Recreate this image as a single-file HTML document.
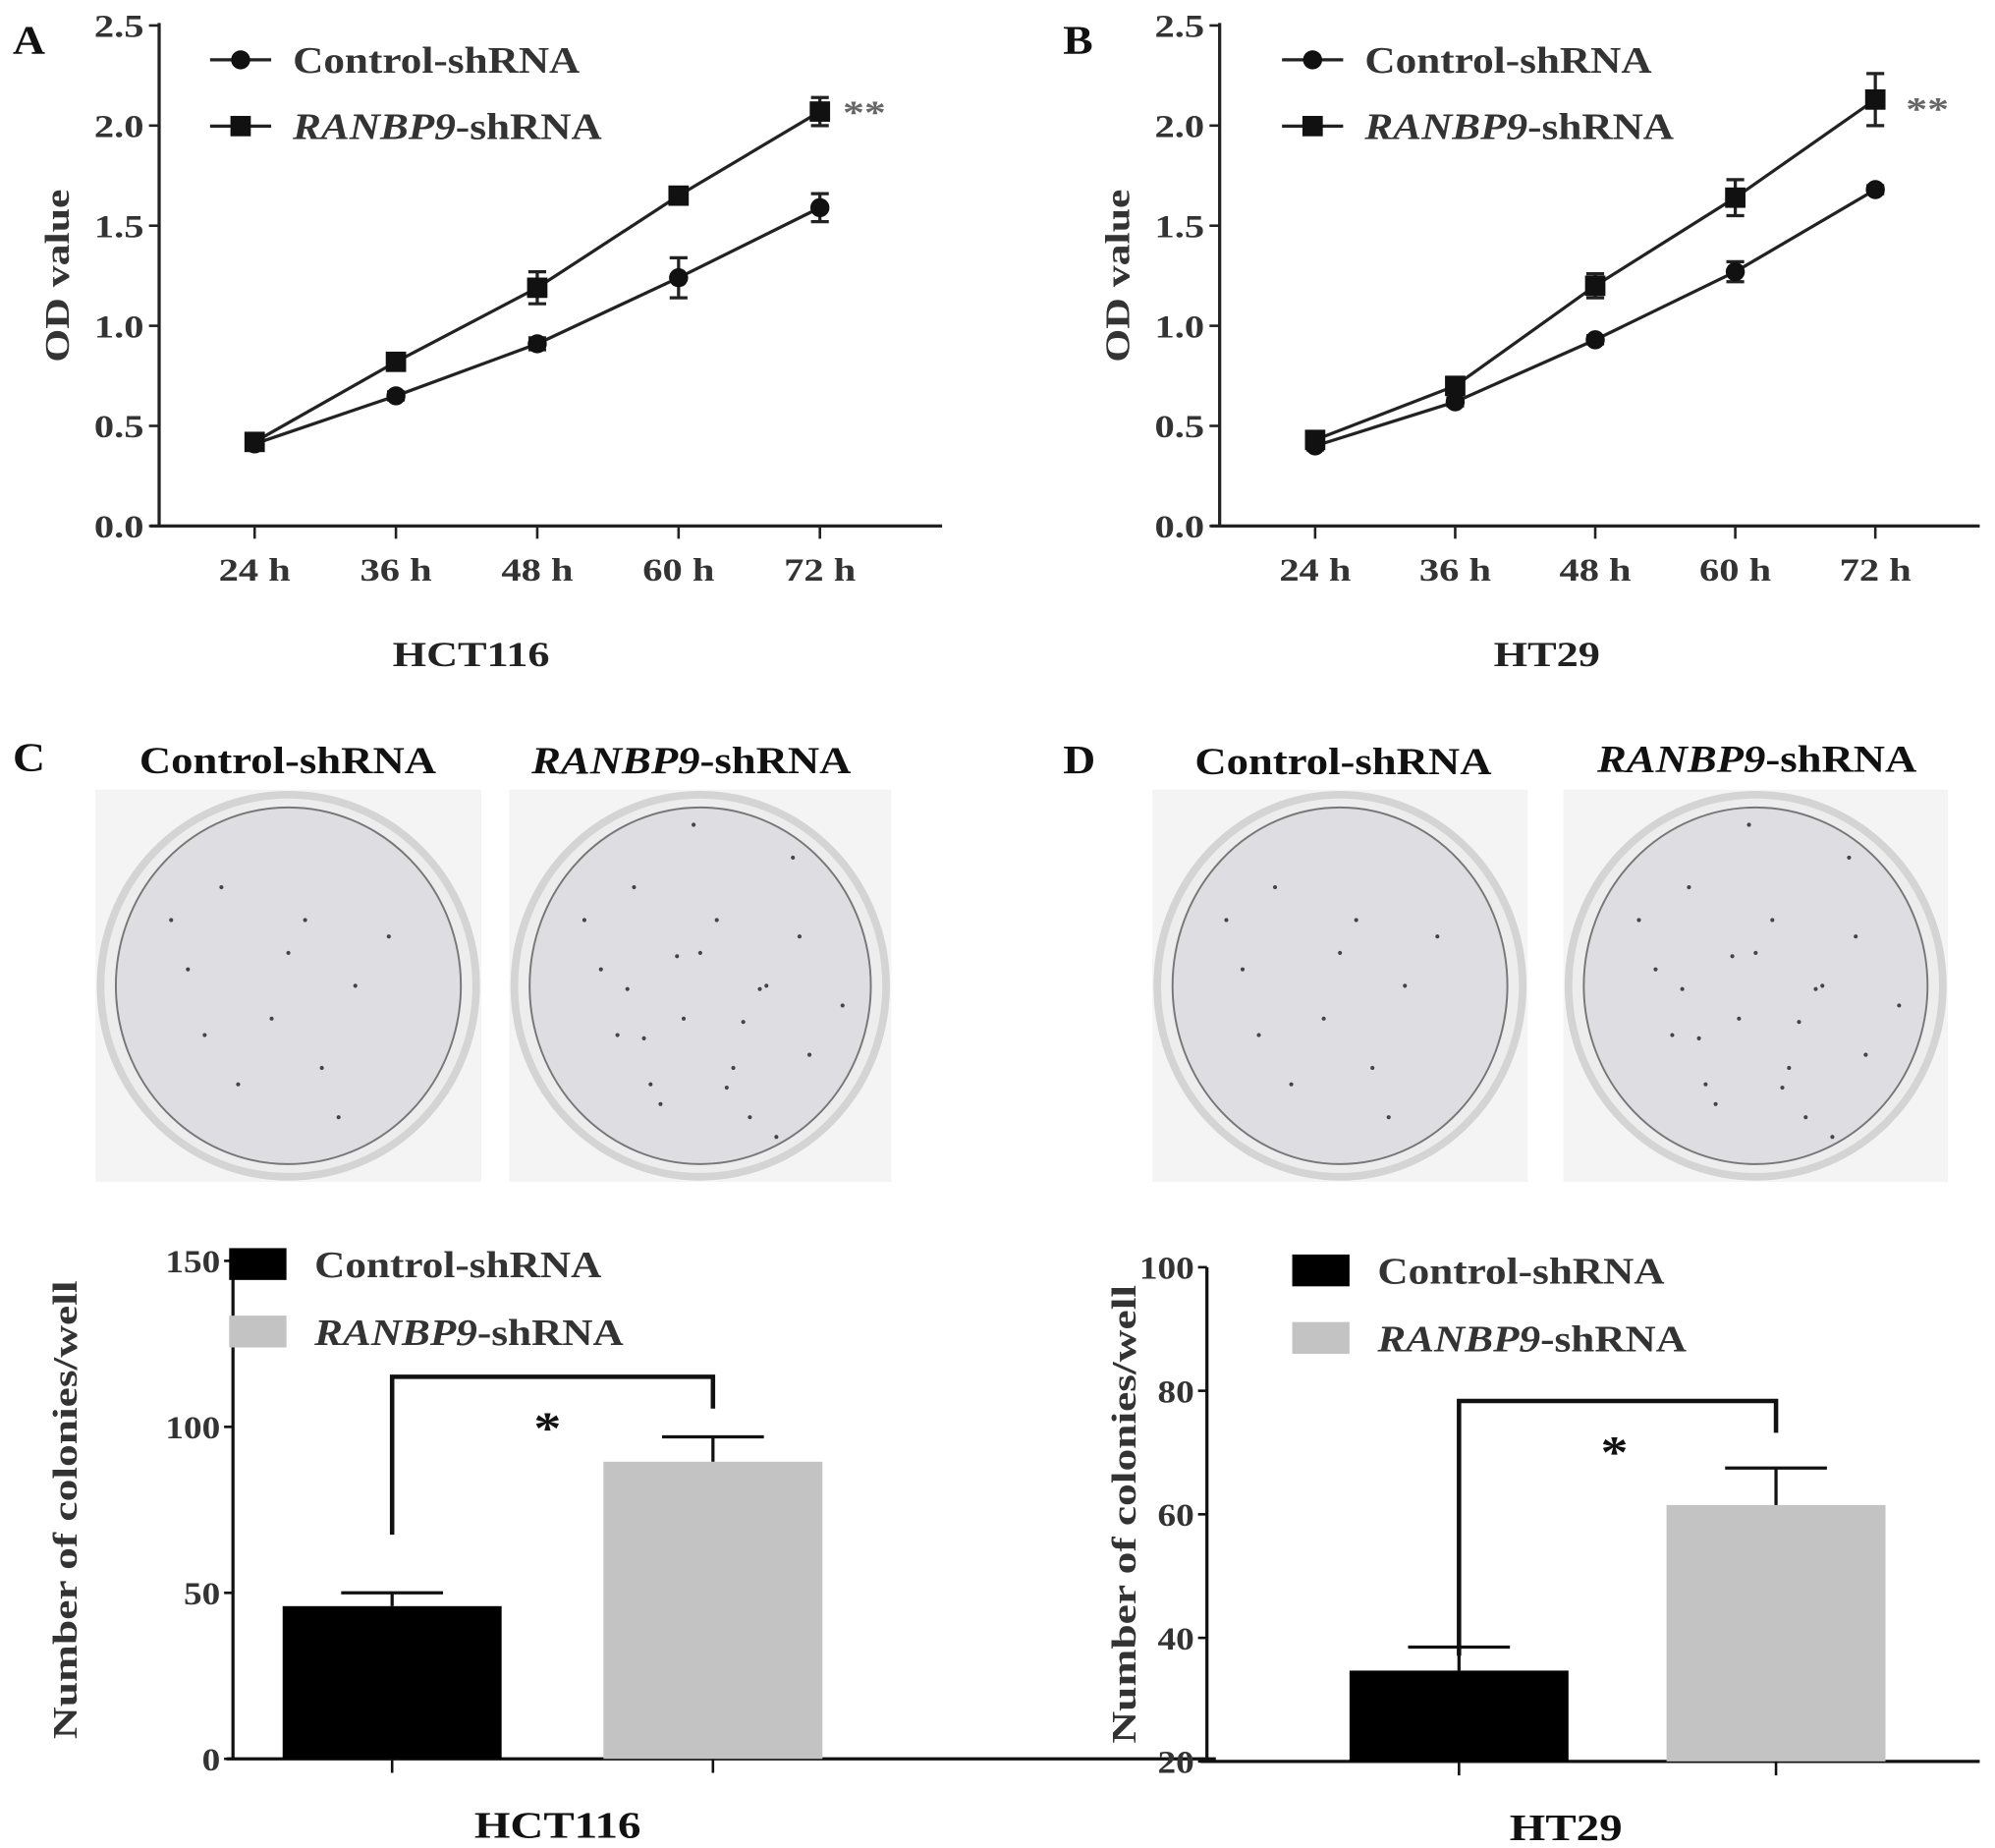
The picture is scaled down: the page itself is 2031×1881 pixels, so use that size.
<!DOCTYPE html>
<html><head><meta charset="utf-8">
<style>
html,body{margin:0;padding:0;background:#fff;}
svg{display:block;font-family:"Liberation Serif",serif;}
</style></head>
<body>
<svg id="fig" width="2031" height="1881" viewBox="0 0 1567 1451" preserveAspectRatio="none" xmlns="http://www.w3.org/2000/svg">
<g id="root"></g>
</svg>
<script>
// ---------- data ----------
const timeLabels = ["24 h","36 h","48 h","60 h","72 h"];
const odTicks = [0.0,0.5,1.0,1.5,2.0,2.5];
const hctControl = [0.41,0.65,0.91,1.24,1.59];
const hctControlErr = [0.02,0.02,0.03,0.10,0.07];
const hctRanbp9 = [0.42,0.82,1.19,1.65,2.07];
const hctRanbp9Err = [0.02,0.02,0.08,0.03,0.07];
const htControl = [0.40,0.62,0.93,1.27,1.68];
const htControlErr = [0.02,0.02,0.02,0.05,0.02];
const htRanbp9 = [0.43,0.70,1.20,1.64,2.13];
const htRanbp9Err = [0.02,0.03,0.06,0.09,0.13];
const groupNames = ["Control-shRNA","RANBP9-shRNA"];
const hctColonies = [46,89.5];
const hctColoniesErr = [4,7.5];
const hctColonyTicks = [0,50,100,150];
const htColonies = [34.7,61.5];
const htColoniesErr = [3.8,6];
const htColonyTicks = [20,40,60,80,100];

const NS="http://www.w3.org/2000/svg";
const root=document.getElementById('root');
function el(tag,attrs,parent,text){
  const e=document.createElementNS(NS,tag);
  for(const k in attrs)e.setAttribute(k,attrs[k]);
  if(text!==undefined)e.textContent=text;
  (parent||root).appendChild(e);return e;
}
function grp(name){const g=el('g',{});
  
  
  return g;}

function label(parent,x,y,txt,size,name,opts){
  opts=opts||{};
  const sx=opts.sx||1.2;
  let tr=`translate(${x} ${y})`;
  if(opts.rotate)tr+=' rotate(-90)';
  tr+=` scale(${sx} 1)`;
  const t=el('text',{x:0,y:0,transform:tr,'font-size':size,'font-weight':'bold','text-anchor':opts.anchor||'middle',fill:opts.fill||'#222'},parent);
  if(opts.italicPart){
    el('tspan',{'font-style':'italic'},t,opts.italicPart);
    el('tspan',{},t,txt);
  } else t.textContent=txt;
  
  
  return t;
}

// ---------- line charts ----------
function lineChart(cfg){
  const g=grp(cfg.name);
  const y=v=>cfg.y0+(cfg.y1-cfg.y0)*(v-0)/(2.5-0);
  const x=i=>cfg.xs0+i*cfg.step;
  el('line',{x1:cfg.ax,y1:cfg.y1-2,x2:cfg.ax,y2:cfg.y0,stroke:'#222','stroke-width':2.5},g);
  el('line',{x1:cfg.ax-7,y1:cfg.y0,x2:cfg.axEnd,y2:cfg.y0,stroke:'#222','stroke-width':2.5},g);
  odTicks.forEach(v=>{
    el('line',{x1:cfg.ax-8,y1:y(v),x2:cfg.ax,y2:y(v),stroke:'#222','stroke-width':2},g);
    label(g,cfg.ax-12,y(v)+9,v.toFixed(1),25,'y-tick-label',{anchor:'end',sx:1.25,fill:'#333'});
  });
  timeLabels.forEach((t,i)=>{
    el('line',{x1:x(i),y1:cfg.y0,x2:x(i),y2:cfg.y0+10,stroke:'#222','stroke-width':2},g);
    label(g,x(i),cfg.y0+43,t,25,'x-tick-label',{sx:1.25,fill:'#333'});
  });
  label(g,cfg.titleX,cfg.y0+110,cfg.title,28,'x-axis-title',{sx:1.22,fill:'#222'});
  label(g,cfg.ylabX,(cfg.y0+cfg.y1)/2,'OD value',27,'y-axis-title',{rotate:true,sx:1.25,fill:'#333'});
  [[cfg.ctrl,cfg.ctrlErr,'circle'],[cfg.ran,cfg.ranErr,'square']].forEach(([vals,errs,shape])=>{
    const pts=vals.map((v,i)=>x(i)+','+y(v)).join(' ');
    const pl=el('polyline',{points:pts,fill:'none',stroke:'#222','stroke-width':2.5},g);
    
    
    vals.forEach((v,i)=>{
      const e=errs[i];
      el('line',{x1:x(i),y1:y(v+e),x2:x(i),y2:y(v-e),stroke:'#222','stroke-width':2.5},g);
      el('line',{x1:x(i)-7,y1:y(v+e),x2:x(i)+7,y2:y(v+e),stroke:'#222','stroke-width':2.5},g);
      el('line',{x1:x(i)-7,y1:y(v-e),x2:x(i)+7,y2:y(v-e),stroke:'#222','stroke-width':2.5},g);
      let m;
      if(shape==='circle')m=el('circle',{cx:x(i),cy:y(v),r:7.5,fill:'#111'},g);
      else m=el('rect',{x:x(i)-8,y:y(v)-8,width:16,height:16,fill:'#111'},g);
      
      
    });
  });
  label(g,cfg.starX,cfg.starY,'**',26,'significance-stars',{fill:'#666',anchor:'start',sx:1.3});
  // legend
  el('line',{x1:cfg.legX,y1:cfg.legY,x2:cfg.legX+48,y2:cfg.legY,stroke:'#222','stroke-width':2.5},g);
  el('circle',{cx:cfg.legX+24,cy:cfg.legY,r:7.5,fill:'#111'},g);
  label(g,cfg.legX+65,cfg.legY+10,'Control-shRNA',29,'legend-control',{anchor:'start',sx:1.15,fill:'#333'});
  el('line',{x1:cfg.legX,y1:cfg.legY+52,x2:cfg.legX+48,y2:cfg.legY+52,stroke:'#222','stroke-width':2.5},g);
  el('rect',{x:cfg.legX+16,y:cfg.legY+44,width:16,height:16,fill:'#111'},g);
  label(g,cfg.legX+65,cfg.legY+62,'-shRNA',29,'legend-ranbp9',{anchor:'start',italicPart:'RANBP9',sx:1.15,fill:'#333'});
  label(g,cfg.letterX,42,cfg.letter,32,'panel-letter',{anchor:'start',fill:'#111',sx:1.1});
}
lineChart({name:'chart-a',ax:125,axEnd:740,y0:413,y1:20,xs0:200,step:111,ctrl:hctControl,ctrlErr:hctControlErr,ran:hctRanbp9,ranErr:hctRanbp9Err,title:'HCT116',titleX:370,ylabX:54,starX:662,starY:97,legX:165,legY:47,letter:'A',letterX:10});
lineChart({name:'chart-b',ax:958,axEnd:1555,y0:413,y1:20,xs0:1033,step:110,ctrl:htControl,ctrlErr:htControlErr,ran:htRanbp9,ranErr:htRanbp9Err,title:'HT29',titleX:1215,ylabX:887,starX:1497,starY:94,legX:1007,legY:47,letter:'B',letterX:835});

// ---------- dishes ----------
const dishDots=[[0.3,0.2],[0.55,0.3],[0.2,0.45],[0.7,0.5],[0.45,0.6],[0.35,0.8],[0.6,0.75],[0.25,0.65],[0.8,0.35],[0.5,0.4],[0.15,0.3],[0.65,0.9]];
function dish(x,y,w,h,name,dense){
  const g=grp(name);
  el('rect',{x:x,y:y,width:w,height:h,fill:'#f4f4f4'},g);
  const cx=x+w/2,cy=y+h/2;
  el('ellipse',{cx:cx,cy:cy,rx:w/2-4,ry:h/2-4,fill:'#ededed',stroke:'#d4d4d4','stroke-width':6},g);
  el('ellipse',{cx:cx,cy:cy,rx:w/2-16,ry:h/2-14,fill:'#dedee2',stroke:'#777','stroke-width':1.5},g);
  const n=dense?2:1;
  for(let k=0;k<n;k++)dishDots.forEach(([a,b])=>{
    el('circle',{cx:x+20+(w-40)*((a+k*0.13)%1),cy:y+25+(h-50)*((b+k*0.21)%1),r:1.6,fill:'#444'},g);
  });
}
label(root,10,605,'C',32,'panel-letter-c',{anchor:'start',fill:'#111',sx:1.1});
label(root,835,607,'D',32,'panel-letter-d',{anchor:'start',fill:'#111',sx:1.1});
label(root,226,607,'Control-shRNA',30,'dish-header-control',{fill:'#111',sx:1.15});
label(root,543,607,'-shRNA',30,'dish-header-ranbp9',{fill:'#111',italicPart:'RANBP9',sx:1.15});
label(root,1055,608,'Control-shRNA',30,'dish-header-control',{fill:'#111',sx:1.15});
label(root,1380,606,'-shRNA',30,'dish-header-ranbp9',{fill:'#111',italicPart:'RANBP9',sx:1.15});
dish(75,620,303,308,'dish-hct116-control',false);
dish(400,620,300,308,'dish-hct116-ranbp9',true);
dish(905,620,295,308,'dish-ht29-control',false);
dish(1228,620,302,308,'dish-ht29-ranbp9',true);

// ---------- bar charts ----------
function barChart(cfg){
  const g=grp(cfg.name);
  const min=cfg.ticks[0],max=cfg.ticks[cfg.ticks.length-1];
  const y=v=>cfg.y0+(cfg.y1-cfg.y0)*(v-min)/(max-min);
  const colors=['#000','#c3c3c3'];
  el('line',{x1:cfg.ax,y1:cfg.y1,x2:cfg.ax,y2:cfg.y0,stroke:'#111','stroke-width':2.5},g);
  el('line',{x1:cfg.ax-5,y1:cfg.y0,x2:cfg.axEnd,y2:cfg.y0,stroke:'#111','stroke-width':2.5},g);
  cfg.ticks.forEach(v=>{
    el('line',{x1:cfg.ax-7,y1:y(v),x2:cfg.ax,y2:y(v),stroke:'#111','stroke-width':2},g);
    label(g,cfg.ax-10,y(v)+9,String(v),25,'y-tick-label',{anchor:'end',sx:1.15,fill:'#333'});
  });
  cfg.vals.forEach((v,i)=>{
    const cx=cfg.cx[i];
    const r=el('rect',{x:cx-86,y:y(v),width:172,height:y(min)-y(v),fill:colors[i]},g);
    
    
    const e=cfg.errs[i];
    el('line',{x1:cx,y1:y(v),x2:cx,y2:y(v+e),stroke:'#111','stroke-width':2.5},g);
    el('line',{x1:cx-40,y1:y(v+e),x2:cx+40,y2:y(v+e),stroke:'#111','stroke-width':2.5},g);
    el('line',{x1:cx,y1:cfg.y0,x2:cx,y2:cfg.y0+11,stroke:'#111','stroke-width':2},g);
  });
  const b=el('polyline',{points:`${cfg.cx[0]},${cfg.brL} ${cfg.cx[0]},${cfg.brTop} ${cfg.cx[1]},${cfg.brTop} ${cfg.cx[1]},${cfg.brR}`,fill:'none',stroke:'#111','stroke-width':3.5},g);
  
  
  label(g,cfg.starX,cfg.brTop+52,'*',36,'significance-star',{fill:'#111'});
  label(g,cfg.titleX,cfg.y0+62,cfg.title,29,'x-axis-title',{fill:'#111',sx:1.25});
  const my=(cfg.y0+cfg.y1)/2;
  label(g,cfg.ylabX,my,'Number of colonies/well',27,'y-axis-title',{rotate:true,sx:1.3,fill:'#333'});
  el('rect',{x:cfg.legX,y:cfg.legY,width:45,height:25,fill:'#000'},g);
  label(g,cfg.legX+67,cfg.legY+23,'Control-shRNA',29,'legend-control',{anchor:'start',sx:1.15,fill:'#333'});
  el('rect',{x:cfg.legX,y:cfg.legY+53,width:45,height:25,fill:'#c3c3c3'},g);
  label(g,cfg.legX+67,cfg.legY+76,'-shRNA',29,'legend-ranbp9',{anchor:'start',italicPart:'RANBP9',sx:1.15,fill:'#333'});
}
barChart({name:'chart-c',ax:183,axEnd:955,y0:1381,y1:990,ticks:hctColonyTicks,vals:hctColonies,errs:hctColoniesErr,cx:[308,560],brL:1205,brTop:1081,brR:1106,starX:430,title:'HCT116',titleX:438,ylabX:60,legX:180,legY:980});
barChart({name:'chart-d',ax:948,axEnd:1555,y0:1383,y1:995,ticks:htColonyTicks,vals:htColonies,errs:htColoniesErr,cx:[1146,1395],brL:1300,brTop:1100,brR:1125,starX:1268,title:'HT29',titleX:1230,ylabX:892,legX:1015,legY:985});
</script>
</body></html>
